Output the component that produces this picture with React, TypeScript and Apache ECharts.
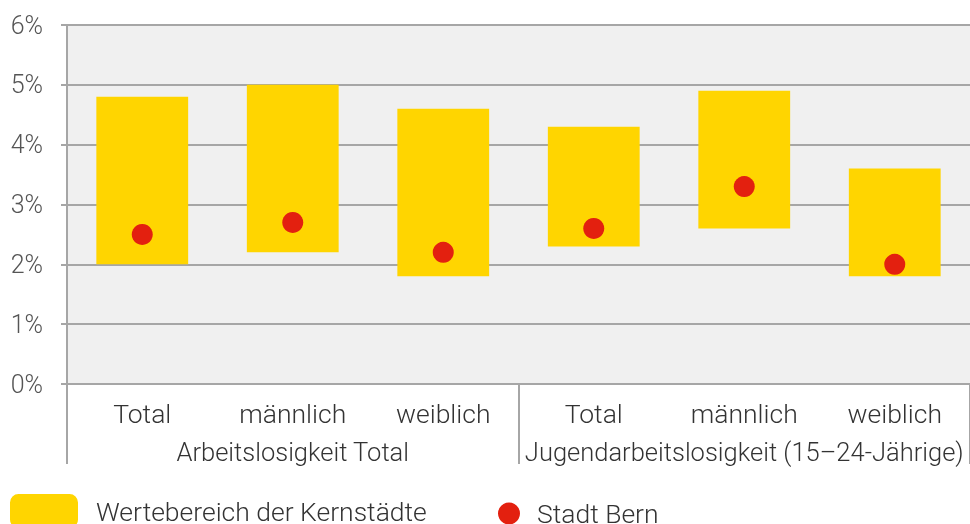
import React, { useEffect, useRef } from "react";
import * as echarts from "echarts";

const categories = ["Total", "männlich", "weiblich", "Total", "männlich", "weiblich"];
const groups = ["Arbeitslosigkeit Total", "Jugendarbeitslosigkeit (15–24-Jährige)"];
const rangeMin = [2.0, 2.2, 1.8, 2.3, 2.6, 1.8];
const rangeMax = [4.8, 5.0, 4.6, 4.3, 4.9, 3.6];
const bernValues = [2.5, 2.7, 2.2, 2.6, 3.3, 2.0];
const yTicks = [0, 1, 2, 3, 4, 5, 6];

const YELLOW = "#FFD500";
const RED = "#E3200F";
const GRID = "#A6A6A6";
const FONT = "Roboto";
const FW = 300;

export default function App() {
  const ref = useRef<HTMLDivElement>(null);
  useEffect(() => {
    document.body.style.margin = "0";
    const chart = echarts.init(ref.current!, null, { renderer: "svg" });
    const spans = rangeMax.map((v, i) => +(v - rangeMin[i]).toFixed(2));
    const txt = { fontFamily: FONT, fontWeight: FW, color: "#333" };
    chart.setOption({
      animation: false,
      grid: {
        left: 67,
        right: 0,
        top: 25,
        bottom: 140,
        show: true,
        backgroundColor: "#F0F0F0",
        borderWidth: 0,
      },
      legend: [
        {
          data: ["Wertebereich der Kernstädte"],
          left: 10,
          top: 494,
          padding: 0,
          itemWidth: 68,
          itemHeight: 34,
          selectedMode: false,
          textStyle: { ...txt, fontSize: 26.5, padding: [0, 0, 0, 13] },
        },
        {
          data: [{ name: "Stadt Bern", icon: "circle" }],
          left: 498,
          top: 500,
          padding: 0,
          itemWidth: 22,
          itemHeight: 22,
          selectedMode: false,
          textStyle: { ...txt, fontSize: 26.5, padding: [0, 0, 0, 12] },
        },
      ],
      xAxis: [
        {
          type: "category",
          data: categories,
          position: "bottom",
          axisLine: { show: true, lineStyle: { color: GRID, width: 2 } },
          axisTick: {
            show: true,
            interval: (i: number) => i % 3 === 0,
            length: 80,
            lineStyle: { color: GRID, width: 2 },
          },
          axisLabel: { ...txt, fontSize: 26.5, margin: 16, interval: 0 },
        },
        {
          type: "category",
          data: groups,
          position: "bottom",
          axisLine: { show: false },
          axisTick: { show: false },
          axisLabel: { ...txt, fontSize: 25.5, margin: 55, interval: 0 },
        },
      ],
      yAxis: {
        type: "value",
        min: 0,
        max: 6,
        interval: 1,
        axisLine: { show: true, lineStyle: { color: GRID, width: 2 } },
        axisTick: { show: true, length: 6, lineStyle: { color: GRID, width: 2 } },
        splitLine: { show: true, lineStyle: { color: GRID, width: 2 } },
        axisLabel: {
          ...txt,
          fontSize: 25,
          color: "#555",
          margin: 24,
          formatter: (v: number) => (yTicks.includes(v) ? `${v}%` : ""),
        },
      },
      series: [
        {
          name: "base",
          type: "bar",
          stack: "range",
          data: rangeMin,
          barWidth: "61%",
          itemStyle: { color: "transparent" },
          silent: true,
        },
        {
          name: "Wertebereich der Kernstädte",
          type: "bar",
          stack: "range",
          data: spans,
          barWidth: "61%",
          itemStyle: { color: YELLOW },
        },
        {
          name: "Stadt Bern",
          type: "scatter",
          data: bernValues,
          symbol: "circle",
          symbolSize: 21,
          itemStyle: { color: RED, opacity: 1 },
          z: 5,
        },
      ],
    });
    return () => chart.dispose();
  }, []);
  return <div ref={ref} style={{ position: "fixed", left: 0, top: 0, width: 970, height: 524 }} />;
}
